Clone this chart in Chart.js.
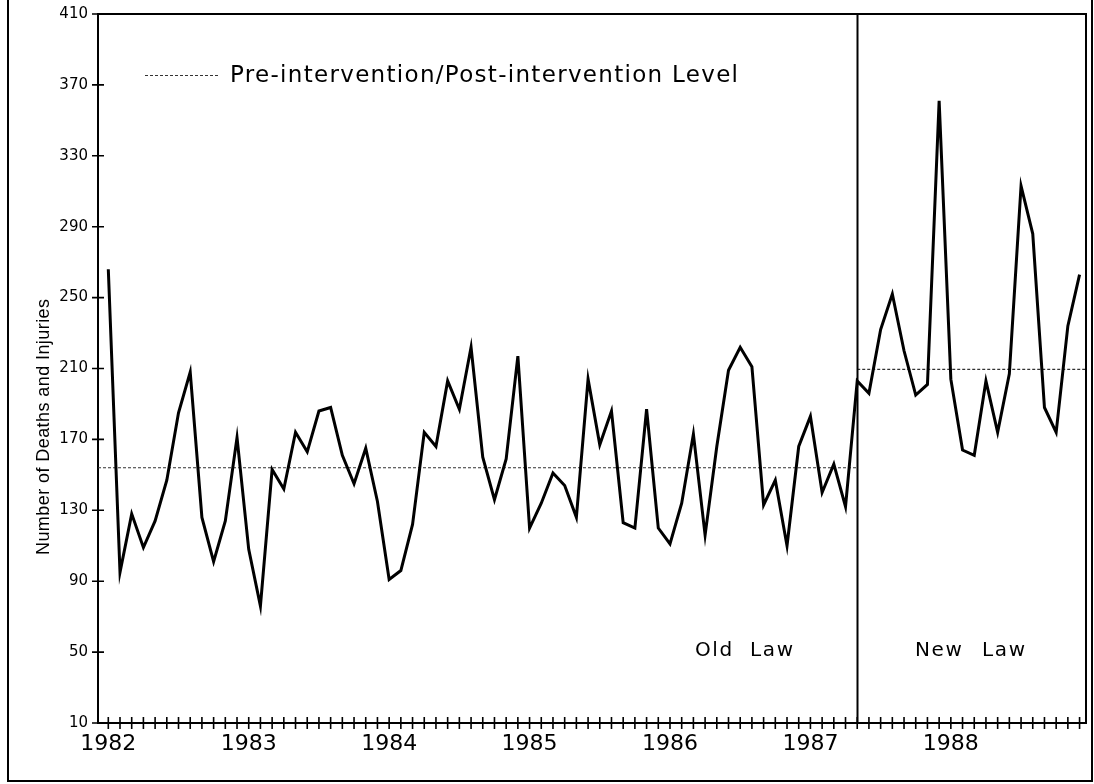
<!DOCTYPE html>
<html>
<head>
<meta charset="utf-8">
<script src="https://cdn.jsdelivr.net/npm/chart.js@4"></script>
<style>
  html, body { margin: 0; padding: 0; background: #fff; }
</style>
</head>
<body>
<canvas id="chart" width="1094" height="784"></canvas>
<script>
// Monthly deaths and injuries, Jan 1982 - Dec 1988
const years = ['1982', '1983', '1984', '1985', '1986', '1987', '1988'];
const deaths = [
    266, 95, 128, 109, 124, 147, 185, 208, 126, 101, 124, 171,
    108, 76, 153, 142, 174, 163, 186, 188, 161, 145, 165, 135,
    91, 96, 122, 174, 166, 203, 187, 222, 160, 136, 159, 217,
    120, 134, 151, 144, 126, 204, 167, 186, 123, 120, 187, 120,
    111, 134, 173, 116, 166, 209, 222, 211, 133, 147, 110, 166,
    183, 140, 156, 132, 203, 196, 232, 252, 220, 195, 201, 361,
    204, 164, 161, 203, 174, 207, 313, 286, 188, 174, 234, 263
];
const yTicks = [10, 50, 90, 130, 170, 210, 250, 290, 330, 370, 410];
const preLevel = 154;
const postLevel = 209.5;
const interventionMonth = 64; // May 1987
const levelLabel = 'Pre-intervention/Post-intervention Level';
const periodLabels = ['Old Law', 'New Law'];
const yTitle = 'Number of Deaths and Injuries';

const X_MIN = -0.88;
const X_MAX = 83.55;

const points = deaths.map((v, i) => ({ x: i, y: v }));
const preLine = [{ x: X_MIN, y: preLevel }, { x: interventionMonth, y: preLevel }];
const postLine = [{ x: interventionMonth, y: postLevel }, { x: X_MAX, y: postLevel }];

// draw text stretched to a given width (extra goes into letter + word spacing)
function fitText(ctx, text, x, y, width, letter) {
    ctx.letterSpacing = '0px';
    ctx.wordSpacing = '0px';
    const w = ctx.measureText(text).width;
    const ls = letter === undefined ? (width - w) / (text.length - 1) : letter;
    const spaces = (text.match(/ /g) || []).length;
    const rest = width - w - ls * (text.length - 1);
    ctx.letterSpacing = ls + 'px';
    if (letter !== undefined && spaces) ctx.wordSpacing = (rest / spaces) + 'px';
    ctx.textAlign = 'left';
    ctx.fillText(text, x, y);
    ctx.letterSpacing = '0px';
    ctx.wordSpacing = '0px';
}

const decorations = {
    id: 'decorations',
    afterDraw(chart) {
        const ctx = chart.ctx;
        const area = chart.chartArea;
        const xs = chart.scales.x;
        const ys = chart.scales.y;
        ctx.save();
        ctx.strokeStyle = '#000';
        ctx.fillStyle = '#000';

        // plot box top + right
        ctx.lineWidth = 2;
        ctx.beginPath();
        ctx.moveTo(area.left, area.top);
        ctx.lineTo(area.right, area.top);
        ctx.lineTo(area.right, area.bottom);
        ctx.stroke();

        // intervention divider
        const xi = Math.round(xs.getPixelForValue(interventionMonth)) + 0.5;
        ctx.beginPath();
        ctx.moveTo(xi, area.top);
        ctx.lineTo(xi, area.bottom);
        ctx.stroke();

        // crossing tick marks
        ctx.lineWidth = 1.6;
        ctx.beginPath();
        for (let i = 0; i < deaths.length; i++) {
            const px = xs.getPixelForValue(i);
            ctx.moveTo(px, area.bottom - 6);
            ctx.lineTo(px, area.bottom + 6);
        }
        yTicks.forEach(v => {
            const py = ys.getPixelForValue(v);
            ctx.moveTo(area.left - 6, py);
            ctx.lineTo(area.left + 6, py);
        });
        ctx.stroke();

        // outer frame
        ctx.lineWidth = 2;
        ctx.beginPath();
        ctx.moveTo(8, 0);
        ctx.lineTo(8, 781);
        ctx.lineTo(1092, 781);
        ctx.lineTo(1092, 0);
        ctx.stroke();

        // legend
        ctx.lineWidth = 1.2;
        ctx.strokeStyle = '#333';
        ctx.setLineDash([3, 2]);
        ctx.beginPath();
        ctx.moveTo(145, 75.5);
        ctx.lineTo(218, 75.5);
        ctx.stroke();
        ctx.setLineDash([]);
        ctx.font = "23px 'DejaVu Sans'";
        ctx.textBaseline = 'alphabetic';
        fitText(ctx, levelLabel, 230, 82, 508);

        // period labels
        ctx.font = "20px 'DejaVu Sans'";
        fitText(ctx, periodLabels[0], 695, 656, 98, 1.6);
        fitText(ctx, periodLabels[1], 915, 656, 110, 1.6);

        // y axis title
        ctx.save();
        ctx.translate(44, 427);
        ctx.rotate(-Math.PI / 2);
        ctx.font = "18px 'Liberation Sans'";
        ctx.textBaseline = 'middle';
        fitText(ctx, yTitle, -128, 0, 256);
        ctx.restore();

        ctx.restore();
    }
};

new Chart(document.getElementById('chart').getContext('2d'), {
    type: 'line',
    data: {
        datasets: [
            {
                label: 'Deaths and Injuries',
                data: points,
                borderColor: '#000',
                borderWidth: 3,
                pointRadius: 0,
                tension: 0,
                fill: false
            },
            {
                label: levelLabel,
                data: preLine,
                borderColor: '#333',
                borderWidth: 1.2,
                borderDash: [3, 2],
                pointRadius: 0
            },
            {
                label: levelLabel,
                data: postLine,
                borderColor: '#333',
                borderWidth: 1.2,
                borderDash: [3, 2],
                pointRadius: 0
            }
        ]
    },
    options: {
        responsive: false,
        animation: false,
        layout: { padding: { left: 0, top: 14, right: 8, bottom: 0 } },
        plugins: {
            legend: { display: false },
            tooltip: { enabled: false }
        },
        scales: {
            x: {
                type: 'linear',
                min: X_MIN,
                max: X_MAX,
                afterFit: s => { s.height = 61; s.paddingLeft = 0; s.paddingRight = 0; },
                grid: { display: true, drawOnChartArea: false, drawTicks: false },
                border: { display: true, color: '#000', width: 2 },
                ticks: {
                    stepSize: 1,
                    includeBounds: false,
                    autoSkip: false,
                    maxRotation: 0,
                    padding: 8,
                    color: '#000',
                    font: { family: "'DejaVu Sans'", size: 22 },
                    callback: v => (v % 12 === 0 ? years[v / 12] : '')
                }
            },
            y: {
                min: 10,
                max: 410,
                afterFit: s => { s.width = 98; s.paddingTop = 0; s.paddingBottom = 0; },
                grid: { display: true, drawOnChartArea: false, drawTicks: false },
                border: { display: true, color: '#000', width: 2 },
                ticks: {
                    stepSize: 40,
                    padding: 10,
                    color: '#000',
                    font: { family: "'DejaVu Sans'", size: 15 }
                }
            }
        }
    },
    plugins: [decorations]
});
</script>
</body>
</html>
